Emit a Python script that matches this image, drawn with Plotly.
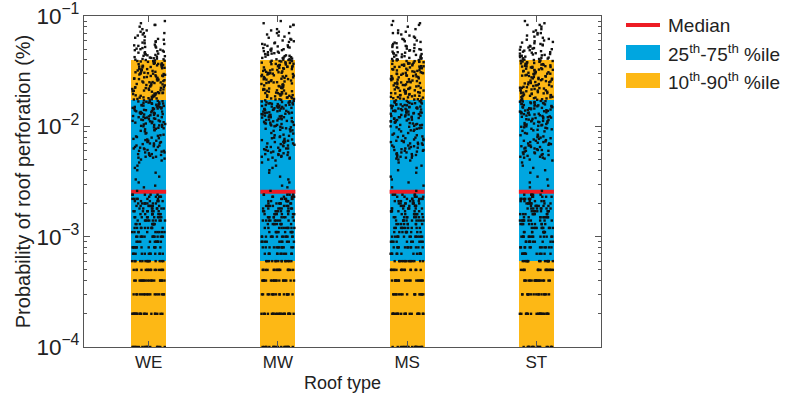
import numpy as np
import plotly.graph_objects as go

# ---------------- data ----------------
roof_types = ["WE", "MW", "MS", "ST"]

# percentile bands (probability, %)
p10 = [5.0e-5, 5.0e-5, 5.0e-5, 5.0e-5]
p25 = [6.0e-4, 6.0e-4, 6.0e-4, 6.0e-4]
p50 = [2.55e-3, 2.55e-3, 2.55e-3, 2.55e-3]
p75 = [1.72e-2, 1.72e-2, 1.72e-2, 1.72e-2]
p90 = [4.0e-2, 4.0e-2, 4.0e-2, 4.0e-2]

# simulated outcomes: perforation counts (1 count = 1e-4 %), shared by all roof types
count_unit = 1e-4
low_k = [1, 2, 3, 4, 5, 6, 7, 8, 9, 10, 11, 12, 13, 14, 15, 16, 17, 18, 19, 20, 21, 22, 23, 24]
low_n = [18, 20, 16, 18, 16, 14, 12, 12, 10, 14, 10, 10, 9, 10, 9, 8, 8, 8, 7, 8, 6, 6, 5, 5]
sparse_k = [26, 28, 29, 31, 33, 35, 38, 40, 42, 44, 47, 49]
mid_k = [50, 51, 52, 53, 53, 54, 55, 56, 56, 57, 58, 59, 60, 60, 61, 62, 63, 64, 65, 65,
         66, 67, 68, 69, 70, 71, 72, 72, 73, 74, 75, 76, 78, 79, 80, 81, 82, 84, 87, 90,
         92, 94, 95, 96, 97, 98, 99, 100, 101, 102, 104, 105, 106, 108, 109, 110, 111, 112,
         114, 115, 116, 118, 119, 120, 121, 122, 124, 125, 126, 128, 129, 130, 132, 133,
         134, 136, 137, 138, 140, 141, 142, 144, 145, 146, 148, 149, 150, 152, 153, 154,
         156, 157, 158, 160, 161, 162, 164, 165, 166, 168, 169, 170,
         52, 55, 58, 61, 63, 67, 70, 74, 77, 83, 86, 91, 93, 103, 107, 113, 117, 123,
         127, 131, 135, 139, 143, 147, 151, 155, 159, 163, 167, 103, 111, 121, 133, 145]
upper_k = [172, 174, 175, 177, 179, 180, 182, 184, 185, 187, 189, 190, 192, 194, 196, 198,
           200, 200, 202, 204, 206, 208, 210, 212, 214, 216, 218, 220, 222, 224, 226, 228,
           230, 232, 235, 237, 240, 242, 245, 247, 250, 250, 252, 255, 257, 260, 262, 265,
           267, 270, 272, 275, 278, 280, 283, 285, 288, 290, 293, 295, 298, 300, 300, 303,
           306, 309, 312, 315, 318, 321, 324, 327, 330, 333, 336, 339, 342, 345, 348, 350,
           351, 354, 357, 360, 363, 366, 369, 372, 375, 378, 381, 384, 387, 390, 393, 396, 399,
           176, 183, 191, 199, 211, 223, 236, 251, 268, 286, 305, 325, 346, 368, 391]
tail_k = [402, 405, 408, 411, 414, 417, 420, 424, 428, 432, 436, 440, 444, 448, 452, 456,
          460, 465, 470, 475, 480, 485, 490, 495, 500, 506, 512, 518, 524, 530, 536, 542,
          550, 558, 566, 574, 582, 590, 600, 610, 620, 635, 650, 665, 680, 700,
          700, 720, 740, 760, 800, 830, 830, 860, 900]

# ---------------- styling ----------------
ORANGE = "#FDB815"
BLUE = "#00A6E0"
RED = "#ED1C24"
BAR_W = 0.27
FONT = "Liberation Sans, Arial, sans-serif"
TXT = "#222222"
AXC = "#555555"

samples = np.concatenate([np.repeat(low_k, low_n), sparse_k, mid_k, upper_k, tail_k]) * count_unit
samples = np.sort(samples)

x_pos = np.arange(len(roof_types))
fig = go.Figure()

fig.add_trace(go.Bar(x=x_pos, y=np.array(p90) - np.array(p10), base=p10, width=BAR_W,
                     marker=dict(color=ORANGE, line=dict(width=0)), showlegend=False,
                     hoverinfo="skip"))
fig.add_trace(go.Bar(x=x_pos, y=np.array(p75) - np.array(p25), base=p25, width=BAR_W,
                     marker=dict(color=BLUE, line=dict(width=0)), showlegend=False,
                     hoverinfo="skip"))
fig.add_trace(go.Scatter(x=x_pos, y=p50, mode="markers", showlegend=False,
                         marker=dict(symbol="line-ew", size=25,
                                     line=dict(width=4, color=RED))))


def scatter_offsets(n, seed):
    # deterministic hash-based horizontal spread (presentation only)
    idx = np.arange(n) + 1.0 + seed * 1000.0
    h = np.sin(idx * 12.9898 + seed * 78.233) * 43758.5453
    return (h - np.floor(h)) - 0.5


for i, name in enumerate(roof_types):
    offs = scatter_offsets(len(samples), i + 1) * BAR_W * 0.95
    fig.add_trace(go.Scatter(x=i + offs, y=samples, mode="markers", showlegend=False,
                             marker=dict(symbol="square", size=2.4, color="#111111",
                                         line=dict(width=0))))

# manual legend (paper coordinates)
px0, px1 = 84, 601
py0, py1 = 16, 347


def pxx(v):
    return (v - px0) / (px1 - px0)


def pyy(v):
    return (py1 - v) / (py1 - py0)


fig.add_shape(type="line", xref="paper", yref="paper", x0=pxx(626), x1=pxx(660),
              y0=pyy(25), y1=pyy(25), line=dict(color=RED, width=4))
fig.add_shape(type="rect", xref="paper", yref="paper", x0=pxx(626), x1=pxx(660),
              y0=pyy(60), y1=pyy(45), fillcolor=BLUE, line=dict(width=0))
fig.add_shape(type="rect", xref="paper", yref="paper", x0=pxx(626), x1=pxx(660),
              y0=pyy(88), y1=pyy(73), fillcolor=ORANGE, line=dict(width=0))
legend_texts = ["Median", "25<sup>th</sup>-75<sup>th</sup> %ile", "10<sup>th</sup>-90<sup>th</sup> %ile"]
for t, yy in zip(legend_texts, [25, 53, 81]):
    fig.add_annotation(text=t, xref="paper", yref="paper", x=pxx(666), y=pyy(yy),
                       xanchor="left", yanchor="middle", showarrow=False,
                       font=dict(family=FONT, size=19, color=TXT))

fig.update_layout(
    width=786, height=401,
    margin=dict(l=px0, r=786 - px1, t=py0, b=401 - py1, autoexpand=False),
    plot_bgcolor="white", paper_bgcolor="white",
    barmode="overlay", bargap=0,
    font=dict(family=FONT, size=17, color=TXT),
)
fig.update_xaxes(
    range=[-0.5, 3.5], tickvals=list(x_pos), ticktext=roof_types, automargin=False,
    showline=True, linecolor=AXC, linewidth=1, mirror="ticks",
    ticks="inside", ticklen=6, tickcolor=AXC, showgrid=False, zeroline=False,
    tickfont=dict(size=17, color=TXT),
    title=dict(text="Roof type", font=dict(size=18, color=TXT), standoff=4),
)
fig.update_yaxes(
    type="log", range=[-4, -1], dtick=1, exponentformat="power", automargin=False,
    showline=True, linecolor=AXC, linewidth=1, mirror="ticks",
    ticks="inside", ticklen=6, tickcolor=AXC, showgrid=False, zeroline=False,
    minor=dict(ticks="inside", ticklen=3, tickcolor=AXC, showgrid=False),
    tickfont=dict(size=18, color=TXT),
    title=dict(text="Probability of roof perforation (%)", font=dict(size=20, color=TXT),
               standoff=0),
)

fig.write_html("out.html", config={"displayModeBar": False},
               post_script="document.body.style.margin='0';")
